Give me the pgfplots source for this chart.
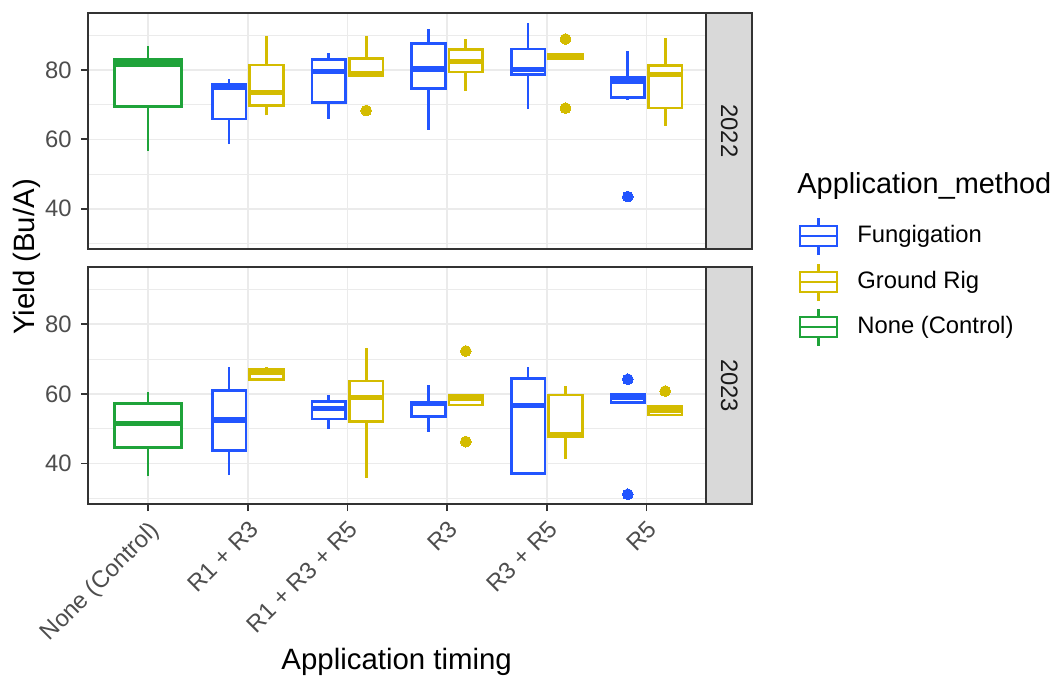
\documentclass[border=0pt]{standalone}
\usepackage{pgfplots}
\pgfplotsset{compat=1.18}
\usepackage{fontspec}
\setmainfont{Liberation Sans}
\definecolor{cF}{HTML}{2255FF}
\definecolor{cG}{HTML}{D4BC00}
\definecolor{cN}{HTML}{1FA33A}
\definecolor{c33}{HTML}{333333}
\definecolor{c4D}{HTML}{4D4D4D}
\definecolor{c1A}{HTML}{1A1A1A}
\definecolor{cGrid}{HTML}{EBEBEB}
\definecolor{cStrip}{HTML}{D9D9D9}
\newcommand{\tfont}{\fontsize{11.9}{14}\selectfont}
\newcommand{\Tfont}{\fontsize{14.7}{17.5}\selectfont}
\pgfplotsset{
 panel/.style={scale only axis, width=309pt, height=118pt,
  xmin=0.4, xmax=6.6, ymin=28.4, ymax=96.4,
  xtick={1,2,3,4,5,6}, ytick={40,60,80}, minor ytick={30,50,70,90},
  xmajorgrids, ymajorgrids, yminorgrids,
  major grid style={cGrid, line width=0.8pt},
  minor grid style={cGrid, line width=0.45pt},
  axis line style={c33, line width=0.9pt},
  tick align=outside, major tick length=3.5pt, minor tick length=0pt,
  major tick style={c33, line width=0.9pt},
  ytick pos=left, xtick pos=bottom,
  yticklabel style={font=\tfont, text=c4D, inner sep=1pt, xshift=-3.7pt},
  /pgf/number format/assume math mode=true,
  anchor=south west},
}
% box: colour, left x, centre x, right x, lower whisker, Q1, median, Q3, upper whisker
\newcommand{\bx}[9]{%
 \addplot[#1, line width=1.35pt] coordinates {(#3,#5) (#3,#6)};
 \addplot[#1, line width=1.35pt] coordinates {(#3,#8) (#3,#9)};
 \addplot[#1, line width=1.35pt, fill=white] coordinates {(#2,#6) (#4,#6) (#4,#8) (#2,#8)} -- cycle;
 \addplot[#1, line width=2.7pt] coordinates {(#2,#7) (#4,#7)};
}
% outlier: colour, x, value
\newcommand{\ol}[3]{%
 \addplot[#1, only marks, mark=*, mark size=2.7pt, mark options={draw=#1, fill=#1, line width=0pt}] coordinates {(#2,#3)};
}
\begin{document}
\begin{tikzpicture}
\fill[white] (0,0) rectangle (530pt,341pt);
\useasboundingbox (0,0) rectangle (530pt,341pt);
% ---------------- 2022 ----------------
\begin{axis}[panel, name=top, at={(44.15pt,216.5pt)}, xmajorticks=false]
\bx{cN}{0.6625}{1}{1.3375}{56.7}{69.4}{81.7}{83.0}{86.9}
\bx{cF}{1.64375}{1.8125}{1.98125}{58.6}{65.9}{75.0}{75.7}{77.4}
\bx{cG}{2.01875}{2.1875}{2.35625}{66.9}{69.7}{73.5}{81.4}{89.8}
\bx{cF}{2.64375}{2.8125}{2.98125}{65.9}{70.7}{79.5}{83.1}{84.8}
\bx{cG}{3.01875}{3.1875}{3.35625}{78.3}{78.3}{78.8}{83.3}{89.8}
\ol{cG}{3.1875}{68.3}
\bx{cF}{3.64375}{3.8125}{3.98125}{62.7}{74.7}{80.3}{87.7}{91.7}
\bx{cG}{4.01875}{4.1875}{4.35625}{74.0}{79.4}{82.4}{85.8}{88.9}
\bx{cF}{4.64375}{4.8125}{4.98125}{68.7}{78.6}{80.2}{86.0}{93.4}
\bx{cG}{5.01875}{5.1875}{5.35625}{83.2}{83.2}{83.9}{84.5}{84.5}
\ol{cG}{5.1875}{88.9}
\ol{cG}{5.1875}{69.0}
\bx{cF}{5.64375}{5.8125}{5.98125}{71.4}{72.1}{76.8}{77.9}{85.5}
\ol{cF}{5.8125}{43.5}
\bx{cG}{6.01875}{6.1875}{6.35625}{63.9}{69.0}{78.6}{81.2}{89.1}
\end{axis}
% ---------------- 2023 ----------------
\begin{axis}[panel, name=bot, at={(44.15pt,89pt)}, height=118.5pt,
 xticklabels={None (Control), R1 + R3, R1 + R3 + R5, R3, R3 + R5, R5},
 xticklabel style={yshift=-2.5pt, anchor=north east, rotate=45, font=\tfont, text=c4D, inner sep=1pt}]
\bx{cN}{0.6625}{1}{1.3375}{36.4}{44.6}{51.5}{57.2}{60.6}
\bx{cF}{1.64375}{1.8125}{1.98125}{36.7}{43.7}{52.5}{60.9}{67.6}
\bx{cG}{2.01875}{2.1875}{2.35625}{64.0}{64.2}{66.3}{67.1}{67.8}
\bx{cF}{2.64375}{2.8125}{2.98125}{49.9}{52.8}{55.8}{57.9}{59.7}
\bx{cG}{3.01875}{3.1875}{3.35625}{36.0}{52.0}{58.9}{63.7}{73.3}
\bx{cF}{3.64375}{3.8125}{3.98125}{49.1}{53.6}{57.2}{57.7}{62.5}
\bx{cG}{4.01875}{4.1875}{4.35625}{56.8}{56.8}{58.7}{59.5}{59.5}
\ol{cG}{4.1875}{72.3}
\ol{cG}{4.1875}{46.3}
\bx{cF}{4.64375}{4.8125}{4.98125}{37.2}{37.2}{56.6}{64.4}{67.8}
\bx{cG}{5.01875}{5.1875}{5.35625}{41.3}{47.7}{48.2}{59.7}{62.3}
\bx{cF}{5.64375}{5.8125}{5.98125}{57.6}{57.6}{58.9}{59.9}{59.9}
\ol{cF}{5.8125}{64.2}
\ol{cF}{5.8125}{31.2}
\bx{cG}{6.01875}{6.1875}{6.35625}{53.9}{53.9}{55.4}{56.3}{56.3}
\ol{cG}{6.1875}{60.8}
\end{axis}
% strips
\draw[fill=cStrip, draw=c33, line width=0.9pt] (top.north east) rectangle ([xshift=23pt]top.south east);
\node[rotate=-90, font=\tfont, text=c1A] at ([xshift=11.5pt]top.east) {2022};
\draw[fill=cStrip, draw=c33, line width=0.9pt] (bot.north east) rectangle ([xshift=23pt]bot.south east);
\node[rotate=-90, font=\tfont, text=c1A] at ([xshift=11.5pt]bot.east) {2023};
% axis titles
\node[rotate=90, font=\Tfont, text=black] at (13.5pt,212.5pt) {Yield (Bu/A)};
\node[anchor=base, font=\Tfont, text=black] at (198.35pt,6.5pt) {Application timing};
% legend
\node[anchor=base west, font=\fontsize{14.45}{17}\selectfont, text=black, inner sep=0pt] at (398.5pt,244.5pt) {Application\_method};
\foreach \c/\lab/\yy in {cF/Fungigation/223, cG/Ground Rig/200, cN/None (Control)/177.5}{
 \draw[\c, line width=1.35pt] (409.25pt,\yy pt+5pt) -- (409.25pt,\yy pt+9.25pt);
 \draw[\c, line width=1.35pt] (409.25pt,\yy pt-5pt) -- (409.25pt,\yy pt-9.25pt);
 \draw[\c, line width=1.35pt, fill=white] (400pt,\yy pt-5pt) rectangle (418.5pt,\yy pt+5pt);
 \draw[\c, line width=1.35pt] (400pt,\yy pt) -- (418.5pt,\yy pt);
 \node[anchor=west, font=\tfont, text=black, inner sep=0pt] at (428.5pt,\yy pt) {\lab};
}
\end{tikzpicture}
\end{document}
